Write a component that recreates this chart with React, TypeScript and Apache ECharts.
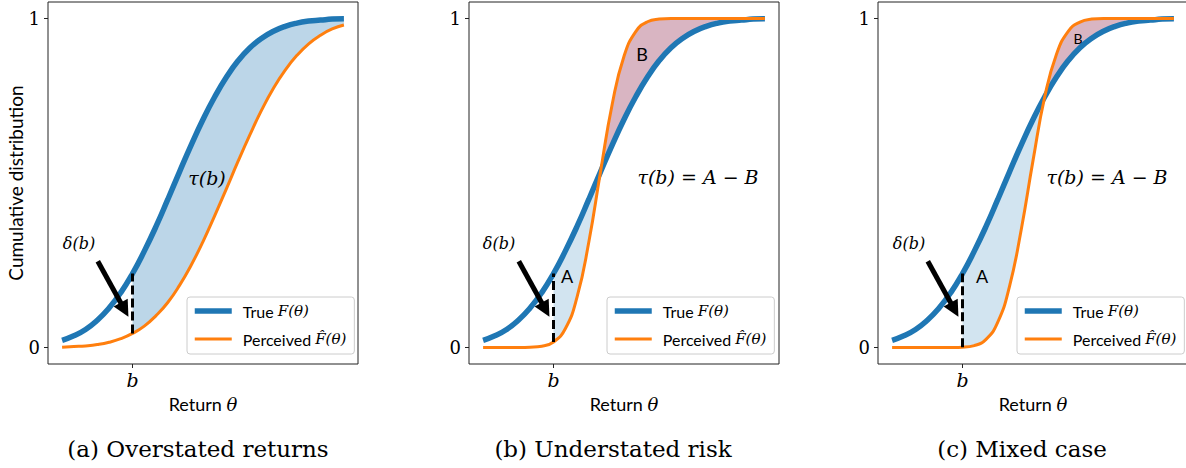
import React, { useEffect, useRef } from 'react';
import * as echarts from 'echarts';

// ---------- data ----------
const X = [-3, -2.75, -2.5, -2.25, -2, -1.75, -1.5, -1.25, -1, -0.75, -0.5, -0.25, 0, 0.25, 0.5, 0.75, 1, 1.25, 1.5, 1.75, 2, 2.25, 2.5, 2.75, 3];
// True distribution F(theta) (same in all three panels)
const BLUE = [0.022, 0.036, 0.055, 0.083, 0.120, 0.167, 0.225, 0.293, 0.368, 0.450, 0.534, 0.616, 0.693, 0.762, 0.822, 0.872, 0.911, 0.940, 0.961, 0.976, 0.986, 0.992, 0.995, 0.998, 0.999];
// Perceived distributions
const ORANGE_A = [0.001, 0.003, 0.005, 0.009, 0.016, 0.027, 0.043, 0.065, 0.097, 0.137, 0.189, 0.251, 0.322, 0.401, 0.483, 0.567, 0.647, 0.722, 0.788, 0.843, 0.888, 0.923, 0.949, 0.968, 0.980];
const ORANGE_B = [0, 0, 0, 0.0001, 0.001, 0.004, 0.017, 0.057, 0.153, 0.320, 0.534, 0.740, 0.885, 0.960, 0.990, 0.998, 1.0, 1.0, 1.0, 1.0, 1.0, 1.0, 1.0, 1.0, 1.0];
const ORANGE_C = [0, 0, 0, 0, 0, 0.0002, 0.001, 0.006, 0.025, 0.077, 0.186, 0.359, 0.568, 0.762, 0.891, 0.961, 0.989, 0.998, 1.0, 1.0, 1.0, 1.0, 1.0, 1.0, 1.0];

const B_VALUE = -1.5;          // the threshold b
const CROSS_B = -0.5;          // where curves cross in panel (b)
const CROSS_C = 0.25;          // where curves cross in panel (c)
const X_TICKS = [B_VALUE];
const X_TICK_LABELS = ['b'];
const Y_TICKS = [0, 1];
const Y_TICK_LABELS = ['0', '1'];
const ARROW_TAIL = [-2.24, 0.262];
const ARROW_TIP = [-1.67, 0.115];

const TRUE_NAME = 'True F(θ)';
const PERC_NAME = 'Perceived F̂(θ)';
const CAPTIONS = ['(a) Overstated returns', '(b) Understated risk', '(c) Mixed case'];

// ---------- layout / style ----------
const PANEL_LEFT = [48, 469, 878];
const PANEL_TOP = 2;
const PANEL_W = 310;
const PANEL_H = 362;
const LEGEND_LEFT = [187, 607, 1017];
const X_MIN = -3.3, X_MAX = 3.3, Y_MIN = -0.05, Y_MAX = 1.05;

const SERIF = '"DejaVu Serif", serif';
const SANS = 'Lato, "Noto Sans", sans-serif';
const BLUE_C = '#1f77b4';
const ORANGE_COL = '#ff7f0e';
const FILL_STRONG = '#bcd6e8';
const FILL_A = '#d2e4f0';
const FILL_B = '#d9b5c2';
const SMOOTH = 0.5;

const ORANGES = [ORANGE_A, ORANGE_B, ORANGE_C];
const LAST_X = X[X.length - 1];
const REGIONS = [
  [{ from: B_VALUE, to: LAST_X, upper: 'blue', color: FILL_STRONG }],
  [{ from: B_VALUE, to: CROSS_B, upper: 'blue', color: FILL_A }, { from: CROSS_B, to: LAST_X, upper: 'orange', color: FILL_B }],
  [{ from: B_VALUE, to: CROSS_C, upper: 'blue', color: FILL_A }, { from: CROSS_C, to: LAST_X, upper: 'orange', color: FILL_B }],
];

function valueAt(arr: number[], x: number) {
  return arr[X.indexOf(x)];
}

type P = number[];
const clamp = (v: number, a: number, b: number) => Math.min(Math.max(v, Math.min(a, b)), Math.max(a, b));

// control points in the manner of ECharts' own line smoothing
function controlPoints(pts: P[]) {
  const n = pts.length;
  const cin: P[] = [];
  const cout: P[] = [];
  for (let i = 0; i < n; i++) {
    const p = pts[i];
    if (i === 0 || i === n - 1) {
      cin[i] = p; cout[i] = p; continue;
    }
    const prev = pts[i - 1];
    const next = pts[i + 1];
    const vx = next[0] - prev[0];
    const vy = next[1] - prev[1];
    const lp = Math.hypot(p[0] - prev[0], p[1] - prev[1]);
    const ln = Math.hypot(next[0] - p[0], next[1] - p[1]);
    const r = ln / (ln + lp || 1);
    cin[i] = [clamp(p[0] - vx * SMOOTH * (1 - r), prev[0], p[0]), clamp(p[1] - vy * SMOOTH * (1 - r), prev[1], p[1])];
    cout[i] = [clamp(p[0] + vx * SMOOTH * r, p[0], next[0]), clamp(p[1] + vy * SMOOTH * r, p[1], next[1])];
  }
  return { cin, cout };
}

const f = (p: P) => `${p[0].toFixed(2)},${p[1].toFixed(2)}`;

function fillRenderer(upper: number[], lower: number[], from: number, to: number, color: string) {
  return (params: any, api: any) => {
    const up = X.map((x, i) => api.coord([x, upper[i]]));
    const lo = X.map((x, i) => api.coord([x, lower[i]]));
    const cu = controlPoints(up);
    const cl = controlPoints(lo);
    const i0 = X.indexOf(from);
    const i1 = X.indexOf(to);
    let d = `M${f(up[i0])}`;
    for (let j = i0; j < i1; j++) d += `C${f(cu.cout[j])} ${f(cu.cin[j + 1])} ${f(up[j + 1])}`;
    d += `L${f(lo[i1])}`;
    for (let j = i1 - 1; j >= i0; j--) d += `C${f(cl.cin[j + 1])} ${f(cl.cout[j])} ${f(lo[j])}`;
    d += 'Z';
    return { type: 'path', shape: { pathData: d }, style: { fill: color, stroke: 'none' }, silent: true };
  };
}

function buildOption(): any {
  const grid = PANEL_LEFT.map((l) => ({
    left: l, top: PANEL_TOP, width: PANEL_W, height: PANEL_H,
    show: true, borderColor: '#222', borderWidth: 1, backgroundColor: 'transparent',
    containLabel: false, outerBoundsMode: 'none',
  }));

  const xAxis = PANEL_LEFT.map((_, p) => ({
    type: 'value', gridIndex: p, min: X_MIN, max: X_MAX, position: 'bottom',
    axisLine: { show: false, onZero: false }, splitLine: { show: false },
    axisTick: { show: true, customValues: X_TICKS, length: 4, inside: false, lineStyle: { color: '#222', width: 1 } },
    axisLabel: {
      show: true, customValues: X_TICKS,
      formatter: (v: number) => X_TICK_LABELS[X_TICKS.indexOf(v)] ?? '',
      margin: 6, fontFamily: SERIF, fontStyle: 'italic', fontSize: 19, color: '#000',
    },
    name: 'Return {m|θ}', nameLocation: 'middle', nameGap: 31,
    nameTextStyle: {
      fontFamily: SANS, fontSize: 18, color: '#000',
      rich: { m: { fontFamily: SERIF, fontStyle: 'italic', fontSize: 18, color: '#000' } },
    },
  }));

  const yAxis = PANEL_LEFT.map((_, p) => ({
    type: 'value', gridIndex: p, min: Y_MIN, max: Y_MAX, position: 'left',
    axisLine: { show: false, onZero: false }, splitLine: { show: false },
    axisTick: { show: true, customValues: Y_TICKS, length: 4, inside: false, lineStyle: { color: '#222', width: 1 } },
    axisLabel: {
      show: true, customValues: Y_TICKS,
      formatter: (v: number) => Y_TICK_LABELS[Y_TICKS.indexOf(v)] ?? '',
      margin: 8, fontFamily: SERIF, fontSize: 18, color: '#000',
    },
    name: p === 0 ? 'Cumulative distribution' : '',
    nameLocation: 'middle', nameGap: 19, nameRotate: 90,
    nameTextStyle: { fontFamily: SANS, fontSize: 19, color: '#000' },
  }));

  const series: any[] = [];
  PANEL_LEFT.forEach((_, p) => {
    const orange = ORANGES[p];
    REGIONS[p].forEach((r, ri) => {
      const up = r.upper === 'blue' ? BLUE : orange;
      const lo = r.upper === 'blue' ? orange : BLUE;
      series.push({
        name: `fill_${p}_${ri}`, type: 'custom', xAxisIndex: p, yAxisIndex: p,
        data: [[r.from, 0]], renderItem: fillRenderer(up, lo, r.from, r.to, r.color),
        silent: true, z: 1, clip: false,
      });
    });
    series.push({
      name: TRUE_NAME, type: 'line', xAxisIndex: p, yAxisIndex: p,
      data: X.map((x, i) => [x, BLUE[i]]), symbol: 'none', smooth: SMOOTH,
      lineStyle: { color: BLUE_C, width: 5.5 }, itemStyle: { color: BLUE_C }, silent: true, z: 3,
    });
    series.push({
      name: PERC_NAME, type: 'line', xAxisIndex: p, yAxisIndex: p,
      data: X.map((x, i) => [x, orange[i]]), symbol: 'none', smooth: SMOOTH,
      lineStyle: { color: ORANGE_COL, width: 3 }, itemStyle: { color: ORANGE_COL }, silent: true, z: 4,
      markLine: {
        silent: true, animation: false, label: { show: false }, emphasis: { disabled: true },
        symbol: ['none', 'none'], z: 5,
        data: [
          [
            { coord: [B_VALUE, valueAt(orange, B_VALUE)], symbol: 'none', lineStyle: { type: [9, 4], width: 3, color: '#000' } },
            { coord: [B_VALUE, valueAt(BLUE, B_VALUE)], symbol: 'none' },
          ],
          [
            { coord: ARROW_TAIL, symbol: 'none', lineStyle: { type: 'solid', width: 5, color: '#000' } },
            { coord: ARROW_TIP, symbol: 'triangle', symbolSize: 16 },
          ],
        ],
      },
    });
  });

  const legend = PANEL_LEFT.map((_, p) => ({
    left: LEGEND_LEFT[p], top: 297, orient: 'vertical',
    itemWidth: 37, itemHeight: 14, itemGap: 8,
    padding: [4, 8, 5, 5],
    backgroundColor: 'rgba(255,255,255,0.85)', borderColor: '#cccccc', borderWidth: 1, borderRadius: 3,
    data: [TRUE_NAME, PERC_NAME], selectedMode: false,
    lineStyle: { width: 'inherit' },
    itemStyle: { color: 'rgba(0,0,0,0)', borderColor: 'rgba(0,0,0,0)', borderWidth: 0, opacity: 0 },
    formatter: (name: string) => (name === TRUE_NAME ? '{s|True }{m|F(θ)}' : '{s|Perceived }{m|F̂(θ)}'),
    textStyle: {
      color: '#000', lineHeight: 20, padding: [0, 0, 0, 6],
      rich: {
        s: { fontFamily: SANS, fontSize: 16, color: '#000', lineHeight: 20 },
        m: { fontFamily: SERIF, fontStyle: 'italic', fontSize: 15, color: '#000', lineHeight: 20 },
      },
    },
  }));

  const txt = (x: number, y: number, text: string, font: string, size: number, italic = false) => ({
    type: 'text', x, y, silent: true, z: 10,
    style: { text, fontFamily: font, fontSize: size, fontStyle: italic ? 'italic' : 'normal', fill: '#000', align: 'center', verticalAlign: 'middle' },
  });

  const graphic = [
    txt(198, 449, CAPTIONS[0], SERIF, 23),
    txt(613, 449, CAPTIONS[1], SERIF, 23),
    txt(1022, 449, CAPTIONS[2], SERIF, 23),
    txt(79, 243, 'δ(b)', SERIF, 16, true),
    txt(499, 243, 'δ(b)', SERIF, 16, true),
    txt(909, 243, 'δ(b)', SERIF, 16, true),
    txt(207, 178, 'τ(b)', SERIF, 19, true),
    txt(698, 177, 'τ(b) = A − B', SERIF, 19, true),
    txt(1107, 177, 'τ(b) = A − B', SERIF, 19, true),
    txt(567, 276, 'A', SANS, 18),
    txt(642, 54, 'B', SANS, 18),
    txt(982, 276, 'A', SANS, 18),
    txt(1078, 38, 'B', SANS, 14),
  ];

  return {
    animation: false,
    backgroundColor: '#ffffff',
    textStyle: { fontFamily: SANS },
    grid, xAxis, yAxis, series, legend, graphic,
  };
}

export default function App() {
  const ref = useRef<HTMLDivElement>(null);
  useEffect(() => {
    if (!ref.current) return;
    const chart = echarts.init(ref.current, undefined, { renderer: 'svg' });
    chart.setOption(buildOption());
    return () => chart.dispose();
  }, []);
  return (
    <div
      ref={ref}
      style={{ position: 'absolute', left: 0, top: 0, width: 1186, height: 468, background: '#fff' }}
    />
  );
}
